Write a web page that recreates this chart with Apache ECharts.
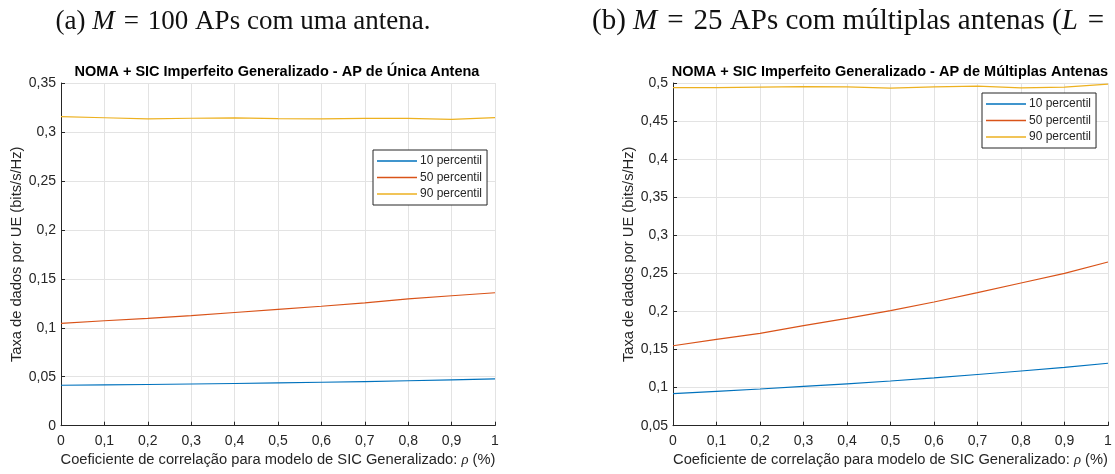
<!DOCTYPE html>
<html>
<head>
<meta charset="utf-8">
<script src="https://cdn.jsdelivr.net/npm/echarts@6/dist/echarts.min.js"></script>
<style>
  html, body { margin: 0; padding: 0; background: #fff; }
  #chart { width: 1115px; height: 474px; }
</style>
</head>
<body>
<div id="chart"></div>
<script>
// Correlation coefficient rho (x axis), shared by both panels
const rho = [0, 0.1, 0.2, 0.3, 0.4, 0.5, 0.6, 0.7, 0.8, 0.9, 1];

// Panel (a): single-antenna APs (M = 100)
const single10 = [0.0413, 0.0417, 0.0421, 0.0426, 0.0431, 0.0437, 0.0444, 0.0451, 0.0459, 0.0468, 0.0478];
const single50 = [0.1046, 0.1072, 0.1097, 0.1125, 0.1156, 0.1188, 0.1220, 0.1254, 0.1295, 0.1327, 0.1358];
const single90 = [0.3157, 0.3145, 0.3133, 0.3140, 0.3143, 0.3137, 0.3133, 0.3139, 0.3138, 0.3128, 0.3147];

// Panel (b): multi-antenna APs (M = 25)
const multi10 = [0.0920, 0.0950, 0.0982, 0.1016, 0.1050, 0.1087, 0.1127, 0.1172, 0.1218, 0.1266, 0.1320];
const multi50 = [0.1550, 0.1634, 0.1713, 0.1813, 0.1910, 0.2010, 0.2124, 0.2247, 0.2374, 0.2500, 0.2650];
const multi90 = [0.4940, 0.4940, 0.4945, 0.4952, 0.4948, 0.4932, 0.4950, 0.4960, 0.4935, 0.4945, 0.4985];

const seriesNames = ['10 percentil', '50 percentil', '90 percentil'];
const colors = ['#0072BD', '#D95319', '#EDB120'];

const xTicks = { min: 0, max: 1, interval: 0.1 };
const yTicksA = { min: 0, max: 0.35, interval: 0.05 };
const yTicksB = { min: 0.05, max: 0.5, interval: 0.05 };

const captions = [
  '(a) {i|M}{eq|=}100 APs com uma antena.',
  '(b) {i|M}{eq|=}25 APs com múltiplas antenas ({i|L}{eq|=}'
];
const titles = [
  'NOMA + SIC Imperfeito Generalizado - AP de Única Antena',
  'NOMA + SIC Imperfeito Generalizado - AP de Múltiplas Antenas'
];
const yName = 'Taxa de dados por UE (bits/s/Hz)';
const xName = 'Coeficiente de correlação para modelo de SIC Generalizado: {i|ρ} (%)';

const ink = '#262626';
const sans = 'Liberation Sans';
const serif = 'Liberation Serif';

function comma(v) {
  return String(Math.round(v * 100) / 100).replace('.', ',');
}

function pairs(ys) {
  return rho.map((x, i) => [x, ys[i]]);
}

function xAxis(gridIndex) {
  return {
    type: 'value', gridIndex,
    min: xTicks.min, max: xTicks.max, interval: xTicks.interval,
    name: xName, nameLocation: 'middle', nameGap: 27,
    nameTextStyle: { fontFamily: sans, fontSize: 14.7, color: ink,
      rich: { i: { fontFamily: serif, fontStyle: 'italic', fontSize: 14.7, color: ink } } },
    axisLine: { show: true, lineStyle: { color: ink, width: 1 } },
    axisTick: { show: true, inside: true, length: 4, lineStyle: { color: ink } },
    axisLabel: { fontFamily: sans, fontSize: 14, color: ink, margin: 8, formatter: comma },
    splitLine: { show: true, lineStyle: { color: '#e3e3e3', width: 1 } }
  };
}

function yAxis(gridIndex, t) {
  return {
    type: 'value', gridIndex,
    min: t.min, max: t.max, interval: t.interval,
    name: yName, nameLocation: 'middle', nameGap: 34,
    nameTextStyle: { fontFamily: sans, fontSize: 14.7, color: ink },
    axisLine: { show: true, lineStyle: { color: ink, width: 1 } },
    axisTick: { show: true, inside: true, length: 4, lineStyle: { color: ink } },
    axisLabel: { fontFamily: sans, fontSize: 14, color: ink, margin: 5, formatter: comma },
    splitLine: { show: true, lineStyle: { color: '#e3e3e3', width: 1 } }
  };
}

function line(name, idx, data, color) {
  return {
    type: 'line', name, xAxisIndex: idx, yAxisIndex: idx,
    data: pairs(data), showSymbol: false, symbol: 'none',
    lineStyle: { color, width: 1.2 }, itemStyle: { color },
    animation: false
  };
}

function legend(left, top) {
  return {
    data: seriesNames, orient: 'vertical', left, top,
    icon: 'rect', itemWidth: 40, itemHeight: 1.5, itemGap: 4.5,
    backgroundColor: '#fff', borderColor: ink, borderWidth: 1,
    padding: [5, 5, 5, 4],
    textStyle: { fontFamily: sans, fontSize: 12, color: ink, padding: [0, 0, 0, -2], lineHeight: 11 }
  };
}

function captionStyle(size, gap) {
  return {
    fontFamily: serif, fontSize: size, fontWeight: 'normal', color: '#111',
    rich: {
      i: { fontFamily: serif, fontStyle: 'italic', fontSize: size, color: '#111' },
      eq: { fontFamily: serif, fontSize: size, color: '#111', padding: [0, gap, 0, gap] }
    }
  };
}

const chart = echarts.init(document.getElementById('chart'), null, { renderer: 'canvas' });
chart.setOption({
  backgroundColor: '#fff',
  animation: false,
  title: [
    { text: captions[0], left: 243, top: 8, textAlign: 'center', padding: 0,
      textStyle: captionStyle(27, 9) },
    { text: captions[1], left: 592, top: 7, padding: 0,
      textStyle: captionStyle(29, 10) },
    { text: titles[0], left: 277, top: 64, textAlign: 'center', padding: 0,
      textStyle: { fontFamily: sans, fontSize: 14.5, fontWeight: 'bold', color: '#000' } },
    { text: titles[1], left: 890, top: 64, textAlign: 'center', padding: 0,
      textStyle: { fontFamily: sans, fontSize: 14.5, fontWeight: 'bold', color: '#000' } }
  ],
  legend: [legend(373, 150), legend(982, 93)],
  grid: [
    { left: 61, top: 83, width: 434, height: 342.7, containLabel: false },
    { left: 673, top: 83, width: 435, height: 342.7, containLabel: false }
  ],
  xAxis: [xAxis(0), xAxis(1)],
  yAxis: [yAxis(0, yTicksA), yAxis(1, yTicksB)],
  series: [
    line(seriesNames[0], 0, single10, colors[0]),
    line(seriesNames[1], 0, single50, colors[1]),
    line(seriesNames[2], 0, single90, colors[2]),
    line(seriesNames[0], 1, multi10, colors[0]),
    line(seriesNames[1], 1, multi50, colors[1]),
    line(seriesNames[2], 1, multi90, colors[2])
  ]
});
</script>
</body>
</html>
